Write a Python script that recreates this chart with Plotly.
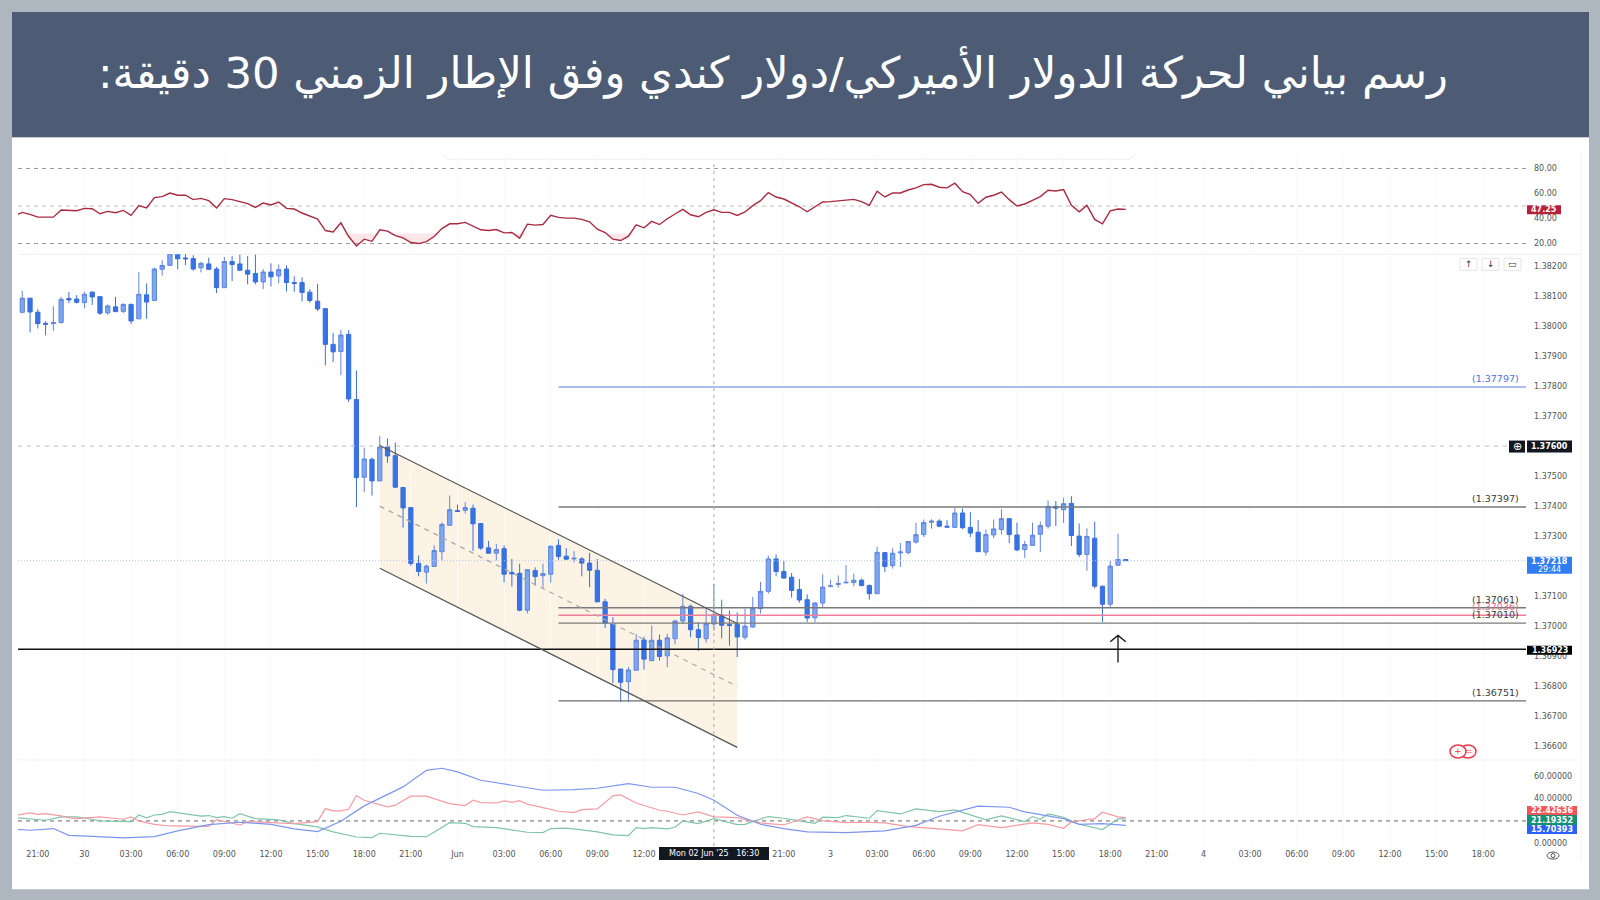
import plotly.graph_objects as go
from plotly.subplots import make_subplots

title_text = "\u200fرسم بياني لحركة الدولار الأميركي/دولار كندي وفق الإطار الزمني 30 دقيقة:\u200f"

# 30 minute bars, index 0 is 29 May 20:00, weekend removed
bar_open = [1.38046, 1.38093, 1.38046, 1.38009, 1.38008, 1.38012, 1.38092, 1.38090, 1.38078, 1.38113,
            1.38098, 1.38044, 1.38064, 1.38049, 1.38072, 1.38024, 1.38104, 1.38085, 1.38189, 1.38202,
            1.38242, 1.38227, 1.38225, 1.38194, 1.38207, 1.38190, 1.38128, 1.38215, 1.38207, 1.38186,
            1.38175, 1.38147, 1.38180, 1.38167, 1.38190, 1.38145, 1.38145, 1.38113, 1.38083, 1.38058,
            1.37939, 1.37915, 1.37972, 1.37755, 1.37496, 1.37556, 1.37484, 1.37597, 1.37568, 1.37462,
            1.37395, 1.37209, 1.37180, 1.37199, 1.37248, 1.37336, 1.37385, 1.37386, 1.37393, 1.37342,
            1.37261, 1.37243, 1.37258, 1.37179, 1.37176, 1.37053, 1.37185, 1.37168, 1.37173, 1.37269,
            1.37233, 1.37224, 1.37224, 1.37210, 1.37186, 1.37081, 1.37008, 1.36857, 1.36815, 1.36853,
            1.36954, 1.36885, 1.36953, 1.36901, 1.36958, 1.37017, 1.37066, 1.36988, 1.36958, 1.37007,
            1.37037, 1.37005, 1.37006, 1.36963, 1.36997, 1.37058, 1.37116, 1.37224, 1.37182, 1.37163,
            1.37122, 1.37088, 1.37028, 1.37077, 1.37132, 1.37139, 1.37144, 1.37145, 1.37153, 1.37135,
            1.37108, 1.37245, 1.37202, 1.37244, 1.37245, 1.37280, 1.37305, 1.37346, 1.37350, 1.37333,
            1.37329, 1.37377, 1.37329, 1.37313, 1.37247, 1.37304, 1.37322, 1.37358, 1.37304, 1.37255,
            1.37269, 1.37306, 1.37333, 1.37399, 1.37388, 1.37409, 1.37300, 1.37239, 1.37293, 1.37133,
            1.37073, 1.37203, 1.37222]
bar_close = [1.38093, 1.38047, 1.38008, 1.38006, 1.38012, 1.38089, 1.38087, 1.38079, 1.38106, 1.38097,
             1.38043, 1.38067, 1.38048, 1.38072, 1.38017, 1.38106, 1.38080, 1.38190, 1.38202, 1.38242,
             1.38224, 1.38224, 1.38190, 1.38209, 1.38189, 1.38128, 1.38215, 1.38205, 1.38186, 1.38173,
             1.38147, 1.38180, 1.38164, 1.38188, 1.38145, 1.38142, 1.38112, 1.38085, 1.38057, 1.37939,
             1.37914, 1.37970, 1.37757, 1.37495, 1.37557, 1.37484, 1.37597, 1.37567, 1.37463, 1.37394,
             1.37209, 1.37182, 1.37200, 1.37252, 1.37339, 1.37388, 1.37382, 1.37395, 1.37341, 1.37260,
             1.37243, 1.37255, 1.37173, 1.37174, 1.37053, 1.37188, 1.37165, 1.37175, 1.37266, 1.37232,
             1.37223, 1.37226, 1.37210, 1.37186, 1.37081, 1.37010, 1.36855, 1.36813, 1.36854, 1.36953,
             1.36890, 1.36953, 1.36899, 1.36961, 1.37017, 1.37066, 1.36988, 1.36962, 1.37009, 1.37039,
             1.37003, 1.37002, 1.36964, 1.37000, 1.37060, 1.37116, 1.37224, 1.37182, 1.37160, 1.37119,
             1.37087, 1.37027, 1.37077, 1.37130, 1.37134, 1.37142, 1.37146, 1.37153, 1.37135, 1.37108,
             1.37246, 1.37199, 1.37243, 1.37247, 1.37282, 1.37305, 1.37345, 1.37350, 1.37333, 1.37330,
             1.37377, 1.37328, 1.37310, 1.37248, 1.37305, 1.37324, 1.37358, 1.37305, 1.37254, 1.37272,
             1.37303, 1.37335, 1.37399, 1.37393, 1.37408, 1.37302, 1.37239, 1.37299, 1.37133, 1.37073,
             1.37200, 1.37222, 1.37218]
bar_high = [1.38117, 1.38093, 1.38056, 1.38016, 1.38066, 1.38097, 1.38114, 1.38103, 1.38114, 1.38116,
            1.38099, 1.38072, 1.38097, 1.38076, 1.38075, 1.38180, 1.38142, 1.38195, 1.38219, 1.38253,
            1.38253, 1.38242, 1.38236, 1.38214, 1.38228, 1.38197, 1.38230, 1.38233, 1.38238, 1.38233,
            1.38238, 1.38190, 1.38209, 1.38205, 1.38202, 1.38166, 1.38162, 1.38123, 1.38140, 1.38058,
            1.37977, 1.37988, 1.37986, 1.37852, 1.37595, 1.37562, 1.37634, 1.37625, 1.37612, 1.37463,
            1.37396, 1.37236, 1.37205, 1.37269, 1.37345, 1.37435, 1.37405, 1.37413, 1.37405, 1.37342,
            1.37284, 1.37274, 1.37269, 1.37224, 1.37208, 1.37189, 1.37196, 1.37208, 1.37269, 1.37289,
            1.37260, 1.37250, 1.37230, 1.37244, 1.37224, 1.37091, 1.37030, 1.36858, 1.36864, 1.36974,
            1.36965, 1.37002, 1.36972, 1.36974, 1.37021, 1.37108, 1.37072, 1.37013, 1.37063, 1.37141,
            1.37088, 1.37052, 1.37046, 1.37058, 1.37097, 1.37147, 1.37235, 1.37239, 1.37217, 1.37177,
            1.37157, 1.37106, 1.37080, 1.37173, 1.37155, 1.37169, 1.37203, 1.37175, 1.37159, 1.37139,
            1.37264, 1.37247, 1.37259, 1.37277, 1.37284, 1.37344, 1.37355, 1.37356, 1.37356, 1.37353,
            1.37394, 1.37392, 1.37380, 1.37353, 1.37322, 1.37355, 1.37390, 1.37360, 1.37345, 1.37284,
            1.37345, 1.37349, 1.37419, 1.37417, 1.37428, 1.37433, 1.37342, 1.37326, 1.37348, 1.37135,
            1.37218, 1.37308, 1.37222]
bar_low = [1.38042, 1.37979, 1.37992, 1.37969, 1.37984, 1.38008, 1.38076, 1.38075, 1.38059, 1.38070,
           1.38037, 1.38037, 1.38047, 1.38043, 1.38007, 1.38024, 1.38024, 1.38084, 1.38168, 1.38202,
           1.38189, 1.38203, 1.38184, 1.38179, 1.38188, 1.38110, 1.38128, 1.38150, 1.38184, 1.38139,
           1.38139, 1.38123, 1.38132, 1.38142, 1.38115, 1.38114, 1.38082, 1.38078, 1.38050, 1.37869,
           1.37880, 1.37836, 1.37747, 1.37397, 1.37446, 1.37435, 1.37484, 1.37544, 1.37461, 1.37328,
           1.37201, 1.37166, 1.37142, 1.37199, 1.37219, 1.37335, 1.37382, 1.37375, 1.37250, 1.37254,
           1.37241, 1.37219, 1.37146, 1.37132, 1.37049, 1.37042, 1.37135, 1.37124, 1.37145, 1.37221,
           1.37222, 1.37212, 1.37166, 1.37130, 1.37080, 1.36994, 1.36810, 1.36747, 1.36747, 1.36852,
           1.36855, 1.36883, 1.36885, 1.36863, 1.36939, 1.37008, 1.36963, 1.36917, 1.36945, 1.36985,
           1.36959, 1.36935, 1.36897, 1.36955, 1.36995, 1.37042, 1.37108, 1.37166, 1.37159, 1.37095,
           1.37078, 1.37014, 1.37014, 1.37064, 1.37130, 1.37128, 1.37144, 1.37133, 1.37133, 1.37088,
           1.37107, 1.37180, 1.37192, 1.37197, 1.37239, 1.37275, 1.37297, 1.37325, 1.37330, 1.37330,
           1.37328, 1.37323, 1.37297, 1.37247, 1.37235, 1.37293, 1.37305, 1.37277, 1.37250, 1.37227,
           1.37267, 1.37247, 1.37325, 1.37333, 1.37344, 1.37267, 1.37230, 1.37184, 1.37125, 1.37014,
           1.37062, 1.37202, 1.37218]

# rsi, first value is the bar before the visible range
rsi_values = [42.2, 44.9, 43.3, 41.1, 41.1, 41.1, 46.8, 46.8, 46.2, 48.1, 47.8,
              43.8, 45.7, 44.6, 46.5, 42.5, 50.3, 48.4, 56.7, 57.5, 60.4,
              58.6, 58.6, 55.1, 56.1, 54.3, 48.4, 55.9, 55.1, 53.5, 51.9,
              48.9, 52.4, 50.8, 53.2, 48.1, 47.6, 44.4, 42.0, 39.5, 30.4,
              29.3, 36.6, 25.6, 18.1, 23.5, 21.8, 31.0, 29.9, 26.4, 24.5,
              20.8, 20.0, 21.6, 25.6, 32.0, 35.8, 35.8, 36.9, 33.9, 31.0,
              30.4, 31.2, 28.5, 28.8, 24.3, 35.5, 34.7, 35.2, 42.5, 40.9,
              40.3, 40.3, 39.3, 37.4, 31.5, 28.8, 23.5, 22.4, 25.9, 35.0,
              32.6, 37.7, 35.2, 39.8, 43.6, 47.3, 43.0, 41.4, 44.9, 47.0,
              44.9, 44.9, 42.5, 45.2, 50.3, 54.3, 60.7, 57.2, 55.6, 52.4,
              49.4, 45.4, 49.4, 53.2, 53.5, 54.0, 54.5, 55.3, 53.5, 50.5,
              61.8, 57.2, 60.4, 60.4, 62.8, 64.5, 67.1, 67.4, 65.0, 64.5,
              68.2, 61.5, 59.1, 52.1, 57.0, 58.6, 61.2, 55.1, 50.0, 51.6,
              54.5, 57.5, 62.6, 62.0, 63.1, 50.5, 45.4, 50.5, 39.3, 35.8,
              46.2, 47.6, 47.3]
rsi_bands = [80, 50, 20]
rsi_ticks = [80, 60, 40, 20]
rsi_shade_level = 28

# dmi vertices
adx_x = [-1, 1, 4, 6, 9, 13, 17, 20, 24, 28, 32, 35, 38, 41, 44, 49, 52, 54, 56, 59, 63, 67, 71, 74, 78,
         81, 84, 87, 89, 92, 95, 98, 101, 106, 111, 115, 118, 123, 127, 129, 134, 136, 139, 142]
adx_y = [12.6, 11.7, 13.2, 7.2, 6.3, 4.9, 6.0, 11.1, 16.7, 18.8, 17.0, 12.9, 10.5, 19.7, 33.4, 50.3, 65.1,
         66.9, 63.7, 56.2, 51.8, 47.3, 47.9, 49.1, 53.3, 50.0, 50.0, 44.4, 38.4, 25.0, 17.0, 13.2, 10.2,
         9.6, 11.1, 16.1, 24.2, 33.1, 32.2, 28.0, 22.1, 17.0, 17.6, 16.1]
plus_x = [-1, 1, 2, 3, 5, 6, 7, 10, 13, 14, 15, 17, 19, 21, 24, 25, 27, 28, 29, 32, 35, 38, 39, 40, 41, 42,
          43, 44, 47, 48, 50, 52, 55, 57, 58, 59, 61, 62, 63, 64, 65, 67, 69, 71, 72, 74, 76, 77, 79, 82,
          83, 85, 87, 89, 92, 95, 98, 101, 103, 106, 108, 111, 114, 118, 121, 123, 126, 130, 132, 134,
          135, 138, 139, 141, 142]
plus_y = [25.0, 27.1, 25.9, 26.5, 24.5, 22.7, 22.1, 23.6, 21.5, 23.6, 20.0, 17.0, 15.5, 15.5, 15.2, 21.2,
          17.6, 16.4, 19.4, 18.2, 17.6, 19.4, 31.0, 28.9, 28.9, 30.4, 42.6, 38.4, 32.5, 34.0, 42.0, 42.0,
          35.4, 33.7, 38.4, 36.3, 36.0, 37.8, 36.6, 38.1, 34.9, 31.9, 28.6, 27.4, 30.1, 30.7, 42.3, 43.2,
          36.0, 29.5, 28.6, 25.3, 28.0, 23.6, 23.0, 18.2, 16.4, 23.6, 20.3, 18.5, 18.8, 18.2, 15.0, 12.9,
          11.1, 16.7, 14.1, 18.2, 17.0, 13.5, 19.1, 22.1, 27.7, 23.6, 23.0]
minus_x = [-1, 2, 3, 5, 7, 9, 10, 14, 15, 16, 17, 18, 19, 23, 24, 25, 26, 27, 28, 30, 33, 35, 38, 40, 43,
           45, 46, 50, 52, 55, 57, 58, 61, 65, 67, 68, 70, 72, 74, 76, 78, 79, 80, 81, 83, 84, 85, 87, 89,
           92, 93, 96, 98, 100, 102, 103, 105, 106, 109, 110, 113, 115, 118, 120, 124, 126, 129, 130, 131,
           132, 134, 136, 139, 141, 142]
minus_y = [23.0, 20.9, 20.6, 23.6, 23.6, 21.5, 20.0, 19.4, 25.3, 22.7, 25.3, 25.9, 28.3, 24.2, 24.8, 23.0,
           23.9, 22.4, 26.5, 22.1, 20.9, 17.6, 14.7, 10.2, 5.7, 5.2, 9.0, 6.3, 6.0, 18.5, 17.9, 15.0, 14.1,
           9.9, 9.6, 13.2, 13.5, 12.0, 10.2, 7.5, 6.9, 14.1, 13.2, 14.1, 12.9, 14.4, 20.0, 17.6, 22.1, 16.7,
           17.0, 23.9, 22.4, 20.0, 17.9, 23.3, 23.0, 24.8, 22.4, 29.2, 26.2, 30.7, 28.3, 29.8, 20.9, 24.5,
           19.4, 23.9, 21.5, 26.2, 23.3, 17.0, 12.3, 21.8, 21.8]
dmi_level = 20
dmi_ticks = [60, 40, 0]
dmi_tick_text = ["60.00000", "40.00000", "0.00000"]

time_tick_pos = [2, 8, 14, 20, 26, 32, 38, 44, 50, 56, 62, 68, 74, 80, 98, 104, 110, 116, 122, 128, 134,
                 140, 146, 152, 158, 164, 170, 176, 182, 188]
time_tick_text = ["21:00", "30", "03:00", "06:00", "09:00", "12:00", "15:00", "18:00", "21:00", "Jun",
                  "03:00", "06:00", "09:00", "12:00", "21:00", "3", "03:00", "06:00", "09:00", "12:00",
                  "15:00", "18:00", "21:00", "4", "03:00", "06:00", "09:00", "12:00", "15:00", "18:00"]
price_ticks = [1.382, 1.381, 1.380, 1.379, 1.378, 1.377, 1.375, 1.374, 1.373, 1.371, 1.370, 1.369, 1.368,
               1.367, 1.366]

x_range = [-0.55, 193.5]
level_start = 69
level_prices = [1.37797, 1.37397, 1.37061, 1.37036, 1.37010, 1.36751]
level_colors = ["#8FA6E8", "#7A7A7A", "#7A7A7A", "#EE7F9B", "#7A7A7A", "#6E6E6E"]
level_label_colors = ["#4F74D8", "#3A3A3A", "#3A3A3A", "#E0708C", "#3A3A3A", "#3A3A3A"]
support_price = 1.36923
round_price = 1.37600
last_price = 1.37218

channel_x = [46, 92]
channel_top = [1.37602, 1.37009]
channel_mid = [1.37400, 1.36799]
channel_bottom = [1.37193, 1.36596]
# hand drawn up arrow under the last bars
arrow_line_x = [141, 141]
arrow_line_y = [1.36879, 1.36969]
arrow_head_x = [140, 141, 142]
arrow_head_y = [1.36948, 1.36969, 1.36948]
cross_x = 89

W = 1600
H = 900
FONT = "DejaVu Sans"
Y_STRETCH = 1.0035  # picture came out a touch short against the reference


def px(x):
    return x / W


def py(y):
    return 1 - y * Y_STRETCH / H


fig = make_subplots(rows=3, cols=1, shared_xaxes=True, vertical_spacing=0)

fig.add_trace(go.Scatter(x=list(range(-1, 143)) + list(range(142, -2, -1)),
                         y=[min(v, rsi_shade_level) for v in rsi_values] + [rsi_shade_level] * 144,
                         mode="lines", line=dict(width=0), fill="toself",
                         fillcolor="rgba(235,90,105,0.15)"), row=1, col=1)
for band in rsi_bands:
    fig.add_trace(go.Scatter(x=x_range, y=[band, band], mode="lines",
                             line=dict(color="#9A9A9A" if band != 50 else "#BDBDBD", width=1, dash="4px,4px")),
                  row=1, col=1)
fig.add_trace(go.Scatter(x=list(range(-1, 143)), y=rsi_values, mode="lines",
                         line=dict(color="#A92B42", width=1.4)), row=1, col=1)

fig.add_trace(go.Candlestick(x=list(range(143)), open=bar_open, high=bar_high, low=bar_low, close=bar_close,
                             increasing=dict(line=dict(color="#5F86DC", width=1), fillcolor="#7FA6F3"),
                             decreasing=dict(line=dict(color="#3A6FD8", width=1), fillcolor="#3573E8"),
                             whiskerwidth=0), row=2, col=1)

fig.add_trace(go.Scatter(x=x_range, y=[round_price, round_price], mode="lines",
                         line=dict(color="#BDBDBD", width=1, dash="4px,5px")), row=2, col=1)
fig.add_trace(go.Scatter(x=x_range, y=[last_price, last_price], mode="lines",
                         line=dict(color="#AFC2F0", width=1, dash="1px,2px")), row=2, col=1)
for price, color in zip(level_prices, level_colors):
    fig.add_trace(go.Scatter(x=[level_start, x_range[1]], y=[price, price], mode="lines",
                             line=dict(color=color, width=1.4)), row=2, col=1)
fig.add_trace(go.Scatter(x=x_range, y=[support_price, support_price], mode="lines",
                         line=dict(color="#111111", width=1.5)), row=2, col=1)
for chan, dash, color in [(channel_top, "solid", "#555555"), (channel_bottom, "solid", "#555555"),
                          (channel_mid, "5px,5px", "#A8A8A8")]:
    fig.add_trace(go.Scatter(x=channel_x, y=chan, mode="lines",
                             line=dict(color=color, width=1.2, dash=dash)), row=2, col=1)
fig.add_trace(go.Scatter(x=arrow_line_x, y=arrow_line_y, mode="lines",
                         line=dict(color="#111111", width=1.3)), row=2, col=1)
fig.add_trace(go.Scatter(x=arrow_head_x, y=arrow_head_y, mode="lines",
                         line=dict(color="#111111", width=1.3)), row=2, col=1)

fig.add_trace(go.Scatter(x=x_range, y=[dmi_level, dmi_level], mode="lines",
                         line=dict(color="#666666", width=1, dash="4px,4px")), row=3, col=1)
fig.add_trace(go.Scatter(x=minus_x, y=minus_y, mode="lines", line=dict(color="#80C4A9", width=1.2)), row=3, col=1)
fig.add_trace(go.Scatter(x=plus_x, y=plus_y, mode="lines", line=dict(color="#F39CA3", width=1.2)), row=3, col=1)
fig.add_trace(go.Scatter(x=adx_x, y=adx_y, mode="lines", line=dict(color="#7D96EC", width=1.2)), row=3, col=1)


def rect(x0, y0, x1, y1, fill, line=None, layer="above"):
    return dict(type="rect", xref="paper", yref="paper", x0=px(x0), x1=px(x1), y0=py(y0), y1=py(y1),
                fillcolor=fill, line=dict(color=line or fill, width=1 if line else 0), layer=layer)


def hline(x0, x1, y, color):
    return dict(type="line", xref="paper", yref="paper", x0=px(x0), x1=px(x1), y0=py(y), y1=py(y),
                line=dict(color=color, width=1), layer="below")


def label(x, y, text, color="#FFFFFF", size=8, bold=False, anchor="center"):
    if bold:
        text = "<b>" + text + "</b>"
    return dict(xref="paper", yref="paper", x=px(x), y=py(y), text=text, showarrow=False, xanchor=anchor,
                yanchor="middle", align="center", font=dict(family=FONT, size=size, color=color))


shapes = [
    rect(12, 137, 1589, 888, "#FFFFFF", layer="below"),
    rect(12, 12, 1589, 137, "#4D5C74", layer="below"),
    dict(type="path", xref="paper", yref="paper", layer="below", line=dict(color="#ECECEC", width=1),
         path="M %f %f L %f %f L %f %f L %f %f" % (px(443), py(154), px(448), py(159), px(1130), py(159), px(1135), py(154))),
    hline(18, 1581, 254, "#EEEEEE"),
    hline(18, 1581, 759, "#F2F2F2"),
    dict(type="line", xref="paper", yref="paper", x0=px(1581), x1=px(1581), y0=py(150), y1=py(860),
         line=dict(color="#F4F4F4", width=1), layer="below"),
    # channel fill, sits behind the candles
    dict(type="path", xref="x2", yref="y2", layer="below", fillcolor="#FDF3E5", line=dict(width=0),
         path="M %d %f L %d %f L %d %f L %d %f Z" % (channel_x[0], channel_top[0], channel_x[1], channel_top[1],
                                                     channel_x[1], channel_bottom[1], channel_x[0], channel_bottom[0])),
    # crosshair
    dict(type="line", xref="x3", yref="paper", x0=cross_x, x1=cross_x, y0=py(845), y1=py(160),
         line=dict(color="#A6A6A6", width=1, dash="3px,4px"), layer="above"),
    # price axis tags
    rect(1527, 205, 1561, 214, "#B5203A"),
    rect(1527, 440, 1572, 452, "#131722"),
    rect(1509, 440, 1525, 452, "#131722"),
    rect(1527, 556, 1572, 573, "#2F7DF0"),
    rect(1527, 645, 1572, 654, "#000000"),
    rect(1527, 805, 1577, 814, "#F2555A"),
    rect(1527, 814, 1577, 824, "#149075"),
    rect(1527, 824, 1577, 833, "#2962FF"),
    rect(659, 846, 769, 859, "#131722"),
    # little pane buttons
    rect(1460, 258, 1477, 270, "#FFFFFF", "#E4E4E4"),
    rect(1482, 258, 1499, 270, "#FFFFFF", "#E4E4E4"),
    rect(1504, 258, 1521, 270, "#FFFFFF", "#E4E4E4"),
    # red event markers
    dict(type="circle", xref="paper", yref="paper", x0=px(1460), x1=px(1476), y0=py(757), y1=py(744),
         fillcolor="#FFFFFF", line=dict(color="#E8394A", width=1.5)),
    dict(type="circle", xref="paper", yref="paper", x0=px(1450), x1=px(1466), y0=py(757), y1=py(744),
         fillcolor="#FFFFFF", line=dict(color="#E8394A", width=1.5)),
    # eye icon
    dict(type="circle", xref="paper", yref="paper", x0=px(1547), x1=px(1559), y0=py(858), y1=py(851),
         line=dict(color="#555555", width=1)),
    dict(type="circle", xref="paper", yref="paper", x0=px(1551), x1=px(1555), y0=py(856.5), y1=py(852.5),
         line=dict(color="#555555", width=1)),
]

annotations = [
    dict(xref="paper", yref="paper", x=px(773), y=py(72), text=title_text, showarrow=False, xanchor="center",
         yanchor="middle", font=dict(family=FONT, size=43.3, color="#FFFFFF")),
    label(1544, 209.5, "47.25", bold=True),
    label(1549.5, 446, "1.37600", bold=True),
    label(1517, 446, "⊕", size=11),
    label(1549.5, 560.5, "1.37218", bold=True),
    label(1549.5, 568.8, "29:44"),
    label(1549.5, 649.5, "1.36923", bold=True),
    label(1552, 809.5, "22.42636", bold=True),
    label(1552, 819, "21.19352", bold=True),
    label(1552, 828.5, "15.70393", bold=True),
    label(714, 852.5, "Mon 02 Jun '25&nbsp;&nbsp;&nbsp;16:30"),
    label(1468.5, 264, "↑", color="#333333", size=9),
    label(1490.5, 264, "↓", color="#333333", size=9),
    label(1512.5, 264, "▭", color="#333333", size=9),
    label(1458, 750.5, "+", color="#E8394A", size=9),
    label(1469, 750.5, "=", color="#E8394A", size=9),
]
for price, color in zip(level_prices, level_label_colors):
    annotations.append(dict(xref="paper", yref="y2", x=px(1520.5), y=price, yshift=8.5, showarrow=False,
                            xanchor="right", yanchor="middle", text="(%.5f)" % price,
                            font=dict(family=FONT, size=9.5, color=color)))

axis_font = dict(family=FONT, size=8, color="#555555")
fig.update_xaxes(range=x_range, domain=[px(18), px(1526)], showline=False, zeroline=False, showgrid=True,
                 gridcolor="#F9FAFC", gridwidth=1, tickmode="array", tickvals=time_tick_pos,
                 ticktext=time_tick_text, tickfont=axis_font, ticks="", fixedrange=True,
                 rangeslider=dict(visible=False))
fig.update_xaxes(ticklabelstandoff=2, row=3, col=1)
fig.update_yaxes(side="right", showgrid=False, zeroline=False, showline=False, tickfont=axis_font,
                 ticks="", ticklabelstandoff=7, fixedrange=True)
fig.update_yaxes(domain=[py(254), py(155)], range=[11.4, 90.6], tickmode="array", tickvals=rsi_ticks,
                 ticktext=["%.2f" % v for v in rsi_ticks], row=1, col=1)
fig.update_yaxes(domain=[py(759), py(254)], range=[1.36554, 1.38239], tickmode="array", tickvals=price_ticks,
                 ticktext=["%.5f" % v for v in price_ticks], row=2, col=1)
fig.update_yaxes(domain=[py(845), py(759)], range=[-2.4, 74.3], tickmode="array", tickvals=dmi_ticks,
                 ticktext=dmi_tick_text, row=3, col=1)

fig.update_layout(width=W, height=H, autosize=False, margin=dict(l=0, r=0, t=0, b=0), showlegend=False,
                  paper_bgcolor="#AEB7C0", plot_bgcolor="rgba(0,0,0,0)", boxgap=0.22,
                  shapes=shapes, annotations=annotations, hovermode=False)

fig.write_html("out.html", config=dict(displayModeBar=False),
               post_script="document.body.style.margin='0';document.body.style.overflow='hidden';")
